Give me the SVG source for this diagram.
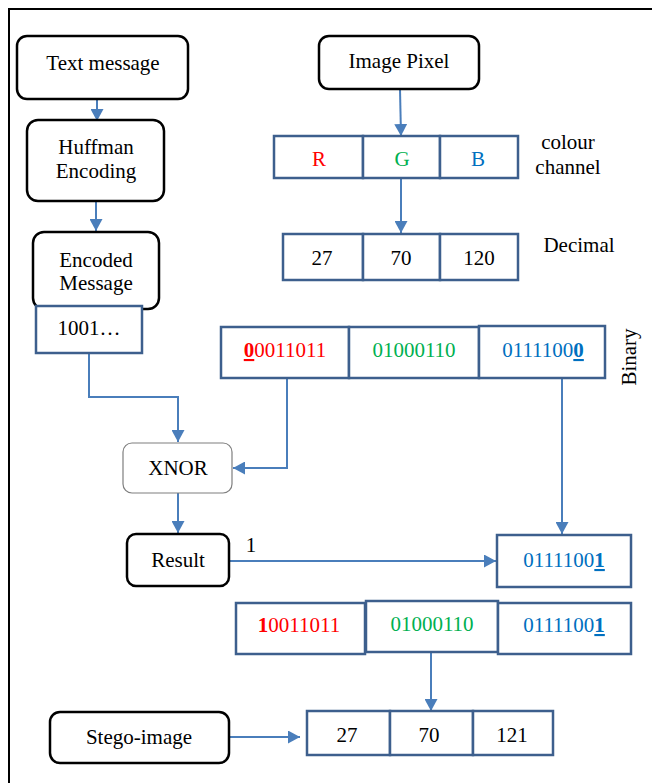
<svg xmlns="http://www.w3.org/2000/svg" width="652" height="783" viewBox="0 0 652 783">
<style>
text{font-family:"Liberation Serif","Times New Roman",serif;font-size:21px;fill:#000;text-anchor:middle}
.node{fill:#fff;stroke:#000;stroke-width:2.5}
.cell{fill:#fff;stroke:#3d5f8d;stroke-width:2.5}
.con{fill:none;stroke:#4a7ebb;stroke-width:2}
.r{fill:#ff0000}.g{fill:#00b050}.b{fill:#0070c0}
.bu{font-weight:bold;text-decoration:underline}
</style>
<defs>
<marker id="ah" markerUnits="userSpaceOnUse" markerWidth="13" markerHeight="13" refX="12" refY="6.5" orient="auto">
<path d="M0,0 L12,6.5 L0,13 z" fill="#4a7ebb"/>
</marker>
</defs>
<rect width="652" height="783" fill="#fff"/>
<path d="M9,783 V9 H652" fill="none" stroke="#000" stroke-width="2"/>

<g id="connectors">
<path class="con" d="M97,99 V121" marker-end="url(#ah)"/>
<path class="con" d="M96,201 V231" marker-end="url(#ah)"/>
<path class="con" d="M89,353 V397 H178 V442" marker-end="url(#ah)"/>
<path class="con" d="M400,89 L401,136" marker-end="url(#ah)"/>
<path class="con" d="M401,178 V233" marker-end="url(#ah)"/>
<path class="con" d="M287,378 V468 H233" marker-end="url(#ah)"/>
<path class="con" d="M562,378 V534" marker-end="url(#ah)"/>
<path class="con" d="M178,493 V533" marker-end="url(#ah)"/>
<path class="con" d="M229,561 H496" marker-end="url(#ah)"/>
<path class="con" d="M431,652 V711" marker-end="url(#ah)"/>
<path class="con" d="M229,737 H300" marker-end="url(#ah)"/>
<text x="251" y="552">1</text>
</g>

<g id="text-message">
<rect class="node" x="17" y="36" width="171" height="63" rx="10"/>
<text x="103" y="70">Text message</text>
</g>
<g id="huffman">
<rect class="node" x="27" y="120" width="137" height="81" rx="11"/>
<text x="96" y="154">Huffman</text>
<text x="96" y="178">Encoding</text>
</g>
<g id="encoded">
<rect class="node" x="33" y="232" width="126" height="77" rx="11"/>
<text x="96" y="267">Encoded</text>
<text x="96" y="290">Message</text>
</g>
<g id="bits">
<rect class="cell" x="36" y="306" width="106" height="47"/>
<text x="89" y="335">1001…</text>
</g>

<g id="image-pixel">
<rect class="node" x="319" y="36" width="160" height="53" rx="10"/>
<text x="399" y="68">Image Pixel</text>
</g>
<g id="channels">
<rect class="cell" x="274" y="136" width="89" height="42"/>
<rect class="cell" x="363" y="136" width="77" height="42"/>
<rect class="cell" x="440" y="136" width="78" height="42"/>
<text class="r" x="319" y="166">R</text>
<text class="g" x="402" y="166">G</text>
<text class="b" x="478" y="166">B</text>
</g>
<text x="568" y="149">colour</text>
<text x="568" y="174">channel</text>
<g id="decimal">
<rect class="cell" x="283" y="234" width="80" height="46"/>
<rect class="cell" x="363" y="234" width="77" height="46"/>
<rect class="cell" x="440" y="234" width="78" height="46"/>
<text x="322" y="265">27</text>
<text x="401" y="265">70</text>
<text x="479" y="265">120</text>
</g>
<text x="579" y="252">Decimal</text>

<g id="binary">
<rect class="cell" x="221" y="327" width="128" height="51"/>
<rect class="cell" x="349" y="327" width="130" height="51"/>
<rect class="cell" x="479" y="326" width="126" height="52"/>
<text class="r" x="285" y="357"><tspan class="bu">0</tspan>0011011</text>
<text class="g" x="414" y="357">01000110</text>
<text class="b" x="543" y="357">0111100<tspan class="bu">0</tspan></text>
</g>
<text x="636" y="357" transform="rotate(-90 636 357)">Binary</text>

<g id="xnor">
<rect x="123" y="443" width="109" height="50" rx="9" fill="#fff" stroke="#7f7f7f" stroke-width="1.2"/>
<text x="178" y="475">XNOR</text>
</g>
<g id="result">
<rect class="node" x="127" y="534" width="102" height="52" rx="9"/>
<text x="178" y="567">Result</text>
</g>
<g id="blue-new">
<rect class="cell" x="497" y="535" width="134" height="52"/>
<text class="b" x="564" y="567">0111100<tspan class="bu">1</tspan></text>
</g>

<g id="binary-new">
<rect class="cell" x="236" y="603" width="129" height="51"/>
<rect class="cell" x="366" y="601" width="132" height="51"/>
<rect class="cell" x="498" y="603" width="133" height="51"/>
<text class="r" x="299" y="632"><tspan font-weight="bold">1</tspan>0011011</text>
<text class="g" x="432" y="631">01000110</text>
<text class="b" x="564" y="632">0111100<tspan class="bu">1</tspan></text>
</g>

<g id="stego-pixel">
<rect class="cell" x="307" y="711" width="83" height="44"/>
<rect class="cell" x="390" y="711" width="83" height="44"/>
<rect class="cell" x="473" y="711" width="80" height="44"/>
<text x="347" y="742">27</text>
<text x="429" y="742">70</text>
<text x="512" y="742">121</text>
</g>
<g id="stego-image">
<rect class="node" x="50" y="712" width="179" height="51" rx="10"/>
<text x="139" y="744">Stego-image</text>
</g>
</svg>
